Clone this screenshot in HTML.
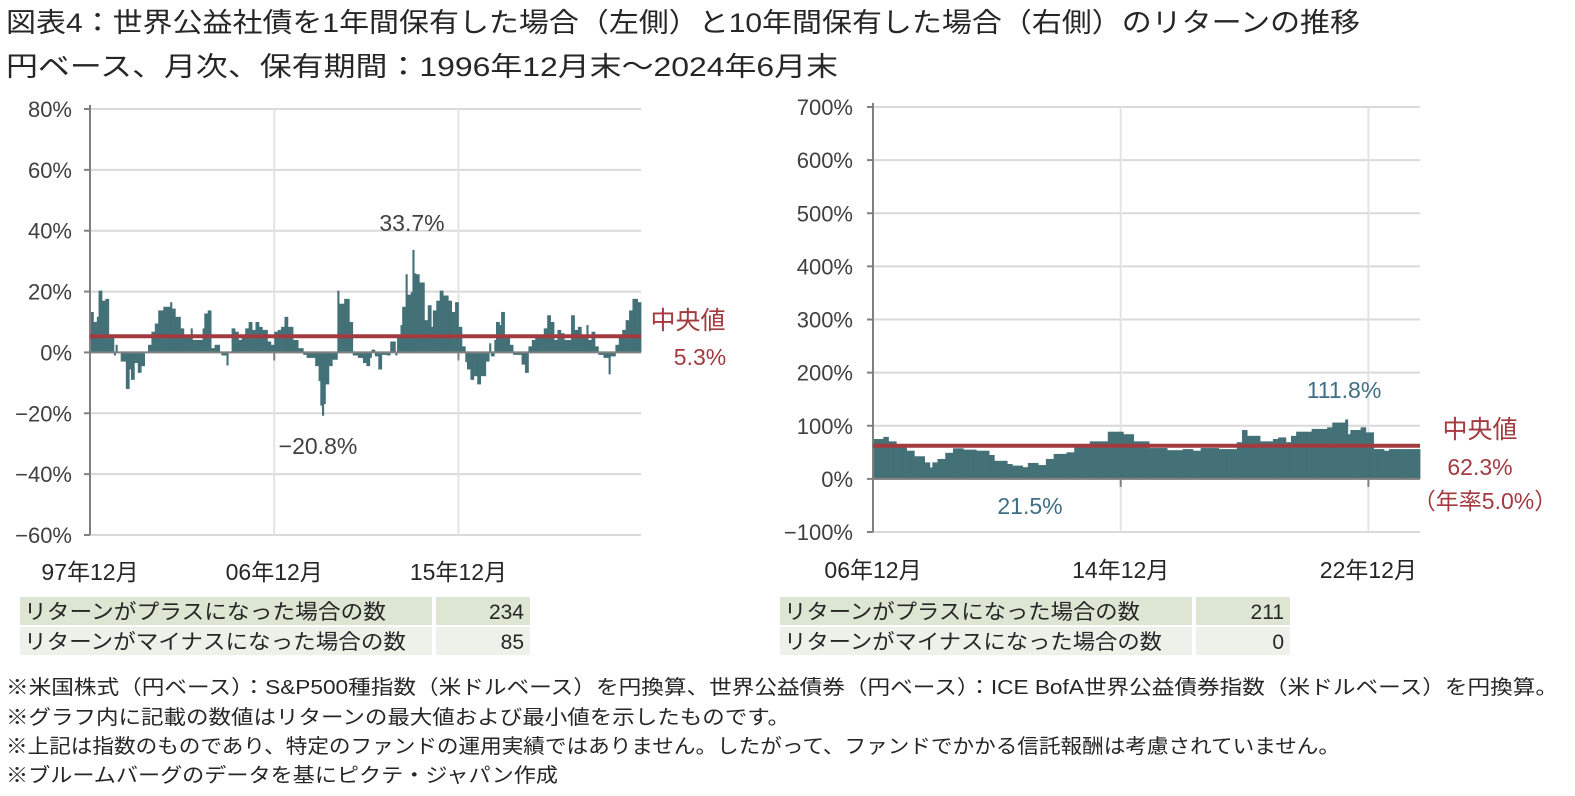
<!DOCTYPE html>
<html><head><meta charset="utf-8">
<style>
body{margin:0;background:#fff;}
svg{display:block;font-family:"Liberation Sans","Noto Sans CJK JP",sans-serif;}
</style></head>
<body>
<svg id="c" width="1575" height="796" viewBox="0 0 1575 796">
<text x="6" y="32" font-size="27" fill="#262626" textLength="1354" lengthAdjust="spacingAndGlyphs">図表4：世界公益社債を1年間保有した場合（左側）と10年間保有した場合（右側）のリターンの推移</text>
<text x="6" y="76" font-size="27" fill="#262626" textLength="832" lengthAdjust="spacingAndGlyphs">円ベース、月次、保有期間：1996年12月末～2024年6月末</text>
<g id="left"></g>
<g id="right"></g>

<g font-size="21" fill="#262626">
<rect x="20" y="597" width="412" height="28" fill="#dde5d3"/>
<rect x="436" y="597" width="94" height="28" fill="#dde5d3"/>
<rect x="20" y="627" width="412" height="28" fill="#eef1e9"/>
<rect x="436" y="627" width="94" height="28" fill="#eef1e9"/>
<text x="24" y="619" textLength="362" lengthAdjust="spacingAndGlyphs">リターンがプラスになった場合の数</text>
<text x="524" y="619" text-anchor="end">234</text>
<text x="24" y="649" textLength="382" lengthAdjust="spacingAndGlyphs">リターンがマイナスになった場合の数</text>
<text x="524" y="649" text-anchor="end">85</text>
</g>
<g font-size="21" fill="#262626">
<rect x="780" y="597" width="412" height="28" fill="#dde5d3"/>
<rect x="1196" y="597" width="94" height="28" fill="#dde5d3"/>
<rect x="780" y="627" width="412" height="28" fill="#eef1e9"/>
<rect x="1196" y="627" width="94" height="28" fill="#eef1e9"/>
<text x="784" y="619" textLength="356" lengthAdjust="spacingAndGlyphs">リターンがプラスになった場合の数</text>
<text x="1284" y="619" text-anchor="end">211</text>
<text x="784" y="649" textLength="378" lengthAdjust="spacingAndGlyphs">リターンがマイナスになった場合の数</text>
<text x="1284" y="649" text-anchor="end">0</text>
</g>
<g font-size="20" fill="#262626">
<text x="6" y="694" textLength="1552" lengthAdjust="spacingAndGlyphs">※米国株式（円ベース）：S&amp;P500種指数（米ドルベース）を円換算、世界公益債券（円ベース）：ICE BofA世界公益債券指数（米ドルベース）を円換算。</text>
<text x="6" y="724" textLength="784" lengthAdjust="spacingAndGlyphs">※グラフ内に記載の数値はリターンの最大値および最小値を示したものです。</text>
<text x="6" y="753" textLength="1334" lengthAdjust="spacingAndGlyphs">※上記は指数のものであり、特定のファンドの運用実績ではありません。したがって、ファンドでかかる信託報酬は考慮されていません。</text>
<text x="6" y="782" textLength="552" lengthAdjust="spacingAndGlyphs">※ブルームバーグのデータを基にピクテ・ジャパン作成</text>
</g>
</svg>
<script>
const leftTicks=[80,60,40,20,0,-20,-40,-60];
const leftXLabels=["97年12月","06年12月","15年12月"];
const leftXLabelIdx=[0,108,216];
const leftMedian=5.3;
const leftValues=[13.3,13.3,10,10,11.7,20.3,20.3,17,17,17.6,17.6,5,5,5,-1,2.5,0,0,-3,-3,-3,-12,-12,-5.6,-9,-9,-3.5,-3.5,-6.7,-6.7,-4.5,-4.5,0,0,2.5,2.5,6.8,6.8,9.5,9.5,13.8,13.8,13.8,15,15,15,15,16.5,14.4,14.4,11.7,11.7,11.7,7.9,7.9,5.2,5.2,5.2,5.2,7.9,4.1,4.1,4.1,4.1,4.1,4.1,7.9,12.8,12.8,13.8,13.8,1.4,1.4,2.5,2.5,2.5,0,-1,-1,-1,-4.3,0,0,7.9,7.9,6.8,6.8,4.1,4.1,5.7,5.7,7.9,7.9,10,10,7.4,7.4,10,10,8.4,8.4,7.4,7.4,7.4,3.6,3.6,2.5,2.5,6.8,6.8,7.4,7.4,8.4,8.4,11.7,11.7,8.4,8.4,8.4,4.1,4.1,4.1,1.4,1.4,1.4,-0.8,-0.8,-1.8,-1.8,-1.8,-1.8,-1.8,-4.5,-4.5,-9.4,-17.5,-20.8,-17,-10.5,-10.5,-4.5,-4.5,-2.4,-2.4,-2.4,20.3,16,16,16,17.6,17.6,17.6,10,10,-1,-1,-1,-1.8,-1.8,-1.8,-3.5,-3.5,
-4.5,-4.5,-1.8,0.9,0.9,-1.3,-1.3,-5.6,-5.6,-0.8,-0.8,-0.8,-1,-1,3.6,3.6,3.6,-1,5.7,5.7,9,15,15,25.7,19,19,19.8,33.7,26,25.7,25.7,23,23,23,10.6,10.6,15.5,15.5,8.4,13.8,13.8,17,17,20.3,20.3,18.7,18.7,18.7,17,17,13.3,13.3,16.5,16.5,8.4,8.4,2,2,-3.2,-5.6,-5.6,-9,-9,-7.8,-7.8,-10.5,-10.5,-7.8,-7.8,-7.8,-3,-3,3,-1.3,-1.3,4.1,10,10,9,13.3,13.3,5.2,5.2,5.2,2.5,2.5,-0.8,-0.8,-0.8,-0.8,-0.8,-4,-4,-6.7,-6.7,2,2,4.1,4.1,5.2,5.2,5.2,5.2,5.2,7.9,7.9,12.2,12.2,10,10,4.1,4.1,7.4,7.4,6.3,6.3,4.1,4.1,4.1,4.1,12.2,12.2,7.4,7.4,8.4,8.4,5.2,5.2,5.2,9,4.1,4.1,6.8,6.8,2,2,-0.8,-0.8,-0.8,-1.8,-1.8,-1.8,-7.2,-1.3,-1.3,-1.3,2.5,2.5,5.2,5.2,7.4,7.4,10.6,10.6,13.8,13.8,17.6,17.6,17.6,16.5,16.5];

const rightTicks=[700,600,500,400,300,200,100,0,-100];
const rightXLabels=["06年12月","14年12月","22年12月"];
const rightXLabelIdx=[0,96,192];
const rightMedian=62.3;
const rightValues=[75,75,75,75,79,79,70.6,70.6,70.6,59,59,59,59,53,53,53,42.5,42.5,42.5,42.5,31,31,21.5,31,31,37.5,37.5,37.5,49,49,49,57.5,57.5,57.5,57.5,55,55,55,55,55,53,53,53,53,53,45,45,34,34,34,34,34,28,28,25,25,25,25,22,22,30,30,30,30,26,26,26,37.5,37.5,37.5,47,47,47,47,47,50,50,50,59,59,59,65.6,65.6,65.6,70.6,70.6,70.6,70.6,70.6,70.6,70.6,88.8,88.8,88.8,88.8,88.8,88.8,84,84,84,84,70.6,70.6,70.6,70.6,70.6,70.6,58,58,58,58,58,58,58,54,54,54,54,54,54,56,56,56,56,53,53,53,58,58,58,58,58,58,58,56,56,56,56,56,56,56,69,69,92,92,81,81,81,81,81,70.6,70.6,70.6,70.6,70.6,75,75,78,78,78,69,69,81,81,88.8,88.8,88.8,88.8,88.8,88.8,94,94,94,94,94,94,97,97,106,106,106,106,106,111.8,84,92,92,92,92,97,97,87.5,87.5,87.5,56,56,56,56,53,53,56,56,56,56,56,56,56,56,56,56,56,56];

const NS='http://www.w3.org/2000/svg';
function mk(tag,attrs,parent){const e=document.createElementNS(NS,tag);for(const k in attrs)e.setAttribute(k,attrs[k]);parent.appendChild(e);return e;}

function drawChart(g,cfg){
  const {x0,x1,yTop,yBot,vMax,vMin,ticks,values,median,xLabels,xIdx,labelX,fmt,xLabelY,namePrefix}=cfg;
  const yS=v=>yTop+(vMax-v)/(vMax-vMin)*(yBot-yTop);
  const bw=(x1-x0)/values.length;
  const xS=i=>x0+i*bw;
  ticks.forEach(t=>{
    const gl=mk('line',{x1:x0,x2:x1,y1:yS(t),y2:yS(t),stroke:'#d9d9d9','stroke-width':2},g);
    
    
    const tx=mk('text',{x:labelX,y:yS(t)+8,'text-anchor':'end','font-size':22,fill:'#404040'},g);
    tx.textContent=fmt(t);
    
    
    const tk=mk('line',{x1:x0-6,x2:x0,y1:yS(t),y2:yS(t),stroke:'#808080','stroke-width':2},g);
    
    
  });
  xIdx.forEach((ix,k)=>{
    const xx=xS(ix);
    if(ix>0){
      const vg=mk('line',{x1:xx,x2:xx,y1:yTop,y2:yBot,stroke:'#e3e3e3','stroke-width':2},g);
      
      
    }
    const tk=mk('line',{x1:xx,x2:xx,y1:yS(0)-6,y2:yS(0)+8,stroke:'#808080','stroke-width':2},g);
    
    
    const lt=mk('text',{x:xx,y:xLabelY,'text-anchor':'middle','font-size':23,fill:'#262626'},g);
    lt.textContent=xLabels[k];
    
    
  });
  values.forEach((v,i)=>{
    const y0=yS(0),y1=yS(v);
    const r=mk('rect',{x:xS(i),y:Math.min(y0,y1),width:bw+0.4,height:Math.max(0.5,Math.abs(y1-y0)),fill:'#437177'},g);
    
    
  });
  const za=mk('line',{x1:x0,x2:x1,y1:yS(0),y2:yS(0),stroke:'#808080','stroke-width':2},g);
  
  
  const ya=mk('line',{x1:x0,x2:x0,y1:yTop-4,y2:yBot,stroke:'#808080','stroke-width':2},g);
  
  
  const ml=mk('line',{x1:x0,x2:x1,y1:yS(median),y2:yS(median),stroke:'#a33a40','stroke-width':4},g);
  
  
  return {xS,yS,bw};
}
function txt(g,x,y,s,fs,fill,anchor,name){
  const t=mk('text',{x:x,y:y,'font-size':fs,fill:fill,'text-anchor':anchor||'start'},g);
  t.textContent=s;
  
  
  return t;
}
const L=document.getElementById('left');
drawChart(L,{x0:90,x1:641,yTop:109,yBot:535,vMax:80,vMin:-60,ticks:leftTicks,values:leftValues,median:leftMedian,xLabels:leftXLabels,xIdx:leftXLabelIdx,labelX:72,fmt:t=>(t<0?'−':'')+Math.abs(t)+'%',xLabelY:580,namePrefix:'left'});
txt(L,412,231,'33.7%',23,'#404040','middle','left-max-annotation');
txt(L,318,454,'−20.8%',23,'#404040','middle','left-min-annotation');
txt(L,688,329,'中央値',25,'#a33a40','middle','left-median-label');
txt(L,700,365,'5.3%',23,'#a33a40','middle','left-median-value');

const R=document.getElementById('right');
drawChart(R,{x0:873,x1:1420,yTop:107,yBot:532,vMax:700,vMin:-100,ticks:rightTicks,values:rightValues,median:rightMedian,xLabels:rightXLabels,xIdx:rightXLabelIdx,labelX:853,fmt:t=>(t<0?'−':'')+Math.abs(t)+'%',xLabelY:578,namePrefix:'right'});
txt(R,1344,398,'111.8%',23,'#3f6f86','middle','right-max-annotation');
txt(R,1030,514,'21.5%',23,'#3f6f86','middle','right-min-annotation');
txt(R,1480,438,'中央値',25,'#a33a40','middle','right-median-label');
txt(R,1480,475,'62.3%',23,'#a33a40','middle','right-median-value');
txt(R,1485,509,'（年率5.0%）',23,'#a33a40','middle','right-median-annual');
</script>
</body></html>
